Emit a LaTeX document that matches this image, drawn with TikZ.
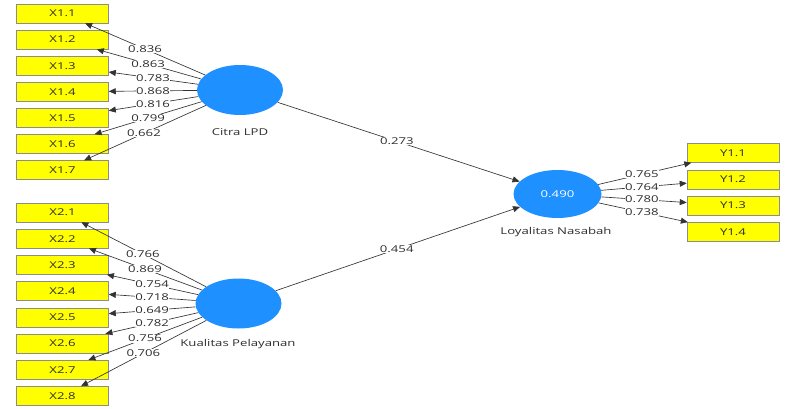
\documentclass[tikz,border=0pt]{standalone}
\usepackage{fontspec}
\setmainfont{Open Sans}[FakeStretch=1.4]
\usetikzlibrary{arrows.meta,calc,shapes.geometric}
\definecolor{lvblue}{HTML}{1E90FF}
\definecolor{mvyellow}{HTML}{FFFF00}
\definecolor{txtgray}{HTML}{2E2E2E}
\begin{document}
\begin{tikzpicture}[x=1pt,y=-1pt,
  mv/.style={draw=black!45, line width=0.5pt, fill=mvyellow, minimum width=92pt, minimum height=19pt, inner sep=0pt, font=\fontsize{9.4}{10}\selectfont, text=txtgray},
  lv/.style={ellipse, fill=lvblue, minimum width=86pt, minimum height=50pt, inner sep=0pt, font=\fontsize{9.4}{10}\selectfont, text=white},
  arr/.style={draw=black!80, line width=0.65pt, -{Triangle[length=7pt,width=6pt]}},
  lbl/.style={fill=white, inner sep=0.6pt, font=\fontsize{9.4}{10}\selectfont, text=txtgray},
  lvname/.style={font=\fontsize{9.4}{10}\selectfont, text=txtgray}]
\useasboundingbox (0,0) rectangle (798,409);
\fill[white] (0,0) rectangle (798,409);

% latent variables
\node[lv] (c) at (240,90) {};
\node[lv] (k) at (238.5,303.5) {};
\node[lv, minimum width=88pt, minimum height=48pt] (l) at (557.5,194) {0.490};
\node[lvname] (cn) at (240,132) {Citra LPD};
\node[lvname] (kn) at (238,344) {Kualitas Pelayanan};
\node[lvname] (ln) at (556,232) {Loyalitas Nasabah};

% indicators
\foreach \i in {1,...,7} {
  \node[mv] (xa\i) at (62.5,{13.5+26.1*(\i-1)}) {X1.\i};
}
\foreach \i in {1,...,8} {
  \node[mv] (xb\i) at (62.5,{212.5+26.2*(\i-1)}) {X2.\i};
}
\foreach \i in {1,...,4} {
  \node[mv] (y\i) at (733,{153+26.3*(\i-1)}) {Y1.\i};
}

% connectors
\foreach \i in {1,...,7} { \draw[arr] (c) -- (xa\i); }
\foreach \i in {1,...,8} { \draw[arr] (k) -- (xb\i); }
\foreach \i in {1,...,4} { \draw[arr] (l) -- (y\i); }
\draw[arr] (c) -- (l);
\draw[arr] (k) -- (l);

% loading labels
\foreach \i/\v/\t in {1/0.836/0.535, 2/0.863/0.518, 3/0.783/0.49, 4/0.868/0.49, 5/0.816/0.49, 6/0.799/0.518, 7/0.662/0.541} {
  \node[lbl] (la\i) at ($(c.center)!\t!(xa\i.center)$) {\v};
}
\foreach \i/\v/\t in {1/0.766/0.543, 2/0.869/0.531, 3/0.754/0.491, 4/0.718/0.491, 5/0.649/0.491, 6/0.782/0.491, 7/0.756/0.531, 8/0.706/0.54} {
  \node[lbl] (lb\i) at ($(k.center)!\t!(xb\i.center)$) {\v};
}
\foreach \i/\v in {1/0.765, 2/0.764, 3/0.780, 4/0.738} {
  \node[lbl] (ly\i) at ($(l.center)!0.481!(y\i.center)$) {\v};
}
\node[lbl] (p1) at ($(c.center)!0.494!(l.center)$) {0.273};
\node[lbl] (p2) at ($(k.center)!0.496!(l.center)$) {0.454};
\end{tikzpicture}
\end{document}
